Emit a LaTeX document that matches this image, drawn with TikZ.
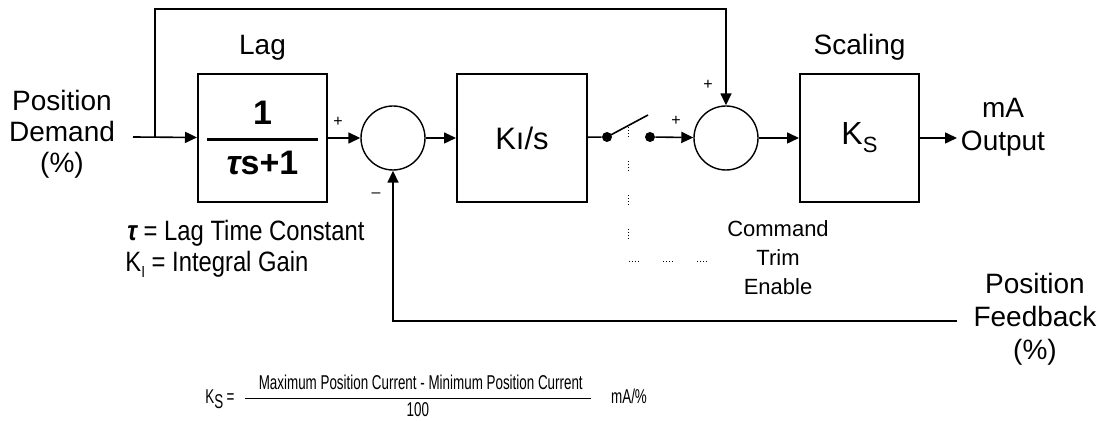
\documentclass[tikz,border=0pt]{standalone}
\usepackage{fontspec}
\usepackage{amsmath}
\setmainfont{Liberation Sans}
\newfontfamily\narrowsans[FakeStretch=0.85]{Liberation Sans}
\newfontfamily\slimsans[FakeStretch=0.67]{Liberation Sans}
\usetikzlibrary{arrows.meta,positioning,calc}
\tikzset{
  blk/.style={rectangle, draw=black, line width=1pt, align=center, inner sep=0pt},
  sumj/.style={circle, draw=black, line width=0.7pt, minimum size=32pt, inner sep=0pt},
  pin/.style={circle, fill=black, minimum size=5pt, inner sep=0pt},
  lbl/.style={align=center, inner sep=0pt, font=\fontsize{14}{16}\selectfont},
  sgn/.style={inner sep=0pt, font=\fontsize{8}{8}\selectfont},
  note/.style={anchor=west, inner sep=0pt, font=\narrowsans\fontsize{14}{14}\selectfont},
  sig/.style={-{Triangle[length=6pt,width=5.5pt]}, line width=0.8pt},
  wire/.style={line width=0.8pt},
  ctl/.style={line width=0.5pt, dash pattern=on 0.5pt off 1pt on 0.5pt off 1pt on 0.5pt off 1pt on 0.5pt off 12pt}
}

\begin{document}
\begin{tikzpicture}[x=0.5pt, y=-0.5pt]
  \useasboundingbox (0,0) rectangle (1100,421);
  \node[blk, minimum width=64.5pt, minimum height=64pt, font=\fontsize{17}{18}\selectfont\bfseries] (lag) at (262.5,138)
       {1\\[-10pt]\rule{55.5pt}{1.4pt}\\[-1pt]{\itshape τ}s+1};
  \node[sumj] (sum1) at (393,138) {};
  \node[blk, minimum width=65pt, minimum height=64pt, font=\fontsize{15.5}{16}\selectfont] (integ) at (522,138) {Kı/s};
  \node[pin] (swa) at (607,137) {};
  \node[pin] (swb) at (650,137) {};
  \node[sumj] (sum2) at (726,138) {};
  \node[blk, minimum width=59.5pt, minimum height=64pt, font=\fontsize{16}{16}\selectfont] (scale) at (859.5,138)
       {K\raisebox{-4pt}{\fontsize{11}{11}\selectfont S}};
  \node[lbl, above=6pt of lag] (laglbl) {Lag};
  \node[lbl, above=6pt of scale] (scalelbl) {Scaling};
  \node[lbl, font=\fontsize{14}{15.5}\selectfont] (demand) at (62,134) {Position\\Demand\\(\%)};
  \node[lbl, font=\fontsize{14}{16.5}\selectfont] (output) at (1003,127) {mA\\Output};
  \node[lbl, font=\fontsize{14}{16.5}\selectfont] (feedback) at (1035,319) {Position\\Feedback\\(\%)};
  \node[lbl, font=\fontsize{11}{14.5}\selectfont] (trim) at (778,258) {Command\\Trim\\Enable};
  \node[note] (taudef) at (127,233) {{\bfseries\itshape τ} = Lag Time Constant};
  \node[note] (kidef) at (125,264) {K\raisebox{-3pt}{\fontsize{8}{8}\selectfont I} = Integral Gain};
  \node[sgn] (p1) at (338,122) {+};
  \node[sgn] (m1) at (376,195) {–};
  \node[sgn] (p2) at (676,121) {+};
  \node[sgn] (p3) at (708,85) {+};
  \node[anchor=west, inner sep=0pt, font=\slimsans\fontsize{10}{11}\selectfont] (ksdef) at (205,396)
       {K\raisebox{-2.5pt}{S}\,=\hspace{4pt}$\dfrac{\text{\hspace{7pt}Maximum Position Current - Minimum Position Current\hspace{4pt}}}{\text{100}}$\hspace{9pt}mA/\%};

  \coordinate (in) at (133,137);
  \coordinate (split) at (155,137);
  \coordinate (top) at (726,9);
  \coordinate (arm) at (648,115);
  \coordinate (out) at (957,138);
  \coordinate (fbin) at (957,321);
  \coordinate (dtop) at (628,127);
  \coordinate (dbot) at (628,262);
  \coordinate (dend) at (712,262);

  \draw[sig] (in) -- (lag);
  \draw[sig] (split) |- (top) -- (sum2);
  \draw[sig] (lag) -- (sum1);
  \draw[sig] (sum1) -- (integ);
  \draw[wire] (integ) -- (swa);
  \draw[wire] (swa.center) -- (arm);
  \draw[sig] (swb) -- (sum2);
  \draw[sig] (sum2) -- (scale);
  \draw[sig] (scale) -- (out);
  \draw[sig] (fbin) -| (sum1);
  \draw[ctl] (dtop) -- (dbot) -- (dend);
\end{tikzpicture}
\end{document}
